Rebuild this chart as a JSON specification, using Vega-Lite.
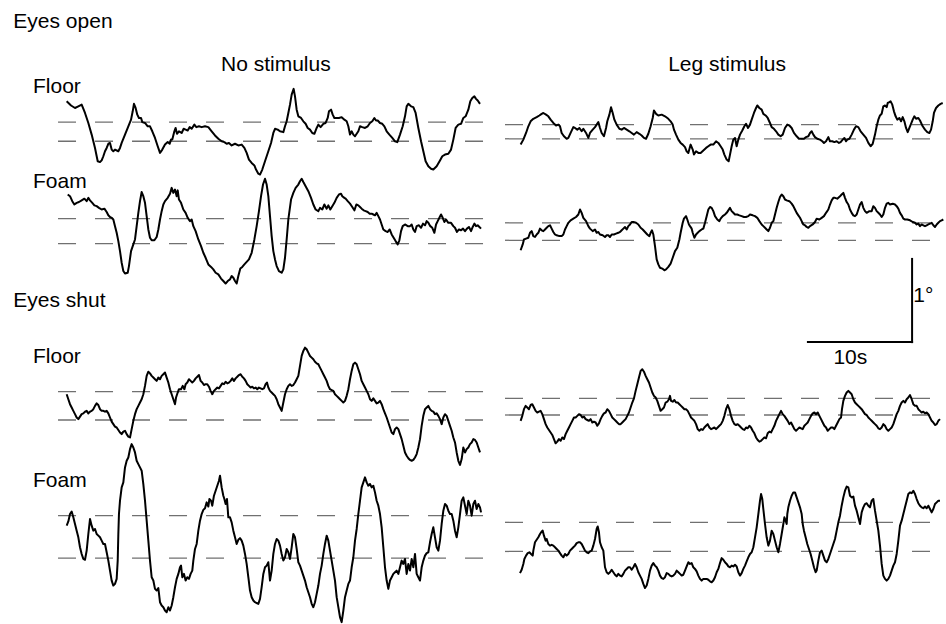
{
"$schema":"https://vega.github.io/schema/vega-lite/v6.json",
"width":946,"height":624,
"autosize":{"type":"fit","contains":"padding"},
"padding":0,
"background":"white",
"config":{"view":{"stroke":null},"text":{"font":"Liberation Sans","fontSize":21,"color":"black","baseline":"alphabetic"}},
"datasets":{
"sway":[
{"id":"A","t":6.40,"deg":6.27},{"id":"A","t":6.82,"deg":6.22},{"id":"A","t":7.20,"deg":6.19},{"id":"A","t":7.52,"deg":6.21},{"id":"A","t":7.84,"deg":6.23},{"id":"A","t":8.16,"deg":6.13},{"id":"A","t":8.48,"deg":6.01},{"id":"A","t":8.80,"deg":5.87},{"id":"A","t":9.12,"deg":5.71},{"id":"A","t":9.38,"deg":5.55},{"id":"A","t":9.60,"deg":5.54},{"id":"A","t":9.76,"deg":5.56},{"id":"A","t":9.92,"deg":5.61},{"id":"A","t":10.08,"deg":5.67},{"id":"A","t":10.24,"deg":5.71},{"id":"A","t":10.40,"deg":5.76},{"id":"A","t":10.56,"deg":5.77},{"id":"A","t":10.72,"deg":5.69},{"id":"A","t":10.88,"deg":5.67},{"id":"A","t":11.04,"deg":5.69},{"id":"A","t":11.36,"deg":5.67},{"id":"A","t":11.52,"deg":5.71},{"id":"A","t":11.68,"deg":5.77},{"id":"A","t":12.00,"deg":5.87},{"id":"A","t":12.32,"deg":5.97},{"id":"A","t":12.58,"deg":6.05},{"id":"A","t":12.74,"deg":6.15},{"id":"A","t":12.86,"deg":6.24},{"id":"A","t":13.02,"deg":6.19},{"id":"A","t":13.18,"deg":6.11},{"id":"A","t":13.34,"deg":6.07},{"id":"A","t":13.54,"deg":6.07},{"id":"A","t":13.66,"deg":6.02},{"id":"A","t":13.92,"deg":6.01},{"id":"A","t":14.18,"deg":5.97},{"id":"A","t":14.40,"deg":5.97},{"id":"A","t":14.62,"deg":5.91},{"id":"A","t":14.88,"deg":5.83},{"id":"A","t":15.14,"deg":5.73},{"id":"A","t":15.36,"deg":5.65},{"id":"A","t":15.58,"deg":5.69},{"id":"A","t":15.84,"deg":5.75},{"id":"A","t":16.10,"deg":5.78},{"id":"A","t":16.29,"deg":5.76},{"id":"A","t":16.42,"deg":5.81},{"id":"A","t":16.54,"deg":5.81},{"id":"A","t":16.74,"deg":5.91},{"id":"A","t":16.86,"deg":5.95},{"id":"A","t":16.99,"deg":5.88},{"id":"A","t":17.18,"deg":5.91},{"id":"A","t":17.44,"deg":5.89},{"id":"A","t":17.63,"deg":5.94},{"id":"A","t":17.82,"deg":5.93},{"id":"A","t":18.02,"deg":5.92},{"id":"A","t":18.21,"deg":5.96},{"id":"A","t":18.40,"deg":5.94},{"id":"A","t":18.66,"deg":5.99},{"id":"A","t":18.85,"deg":5.96},{"id":"A","t":19.10,"deg":5.97},{"id":"A","t":19.36,"deg":5.96},{"id":"A","t":19.68,"deg":5.97},{"id":"A","t":20.00,"deg":5.96},{"id":"A","t":20.32,"deg":5.91},{"id":"A","t":20.64,"deg":5.86},{"id":"A","t":20.96,"deg":5.82},{"id":"A","t":21.28,"deg":5.79},{"id":"A","t":21.54,"deg":5.78},{"id":"A","t":21.76,"deg":5.76},{"id":"A","t":21.98,"deg":5.77},{"id":"A","t":22.24,"deg":5.74},{"id":"A","t":22.56,"deg":5.76},{"id":"A","t":22.88,"deg":5.74},{"id":"A","t":23.20,"deg":5.75},{"id":"A","t":23.46,"deg":5.71},{"id":"A","t":23.68,"deg":5.65},{"id":"A","t":23.90,"deg":5.57},{"id":"A","t":24.16,"deg":5.53},{"id":"A","t":24.42,"deg":5.50},{"id":"A","t":24.58,"deg":5.45},{"id":"A","t":24.80,"deg":5.40},{"id":"A","t":24.96,"deg":5.39},{"id":"A","t":25.18,"deg":5.45},{"id":"A","t":25.44,"deg":5.55},{"id":"A","t":25.76,"deg":5.67},{"id":"A","t":26.02,"deg":5.77},{"id":"A","t":26.24,"deg":5.89},{"id":"A","t":26.40,"deg":5.94},{"id":"A","t":26.66,"deg":5.93},{"id":"A","t":26.88,"deg":5.91},{"id":"A","t":27.20,"deg":5.90},{"id":"A","t":27.36,"deg":5.97},{"id":"A","t":27.52,"deg":6.03},{"id":"A","t":27.68,"deg":6.13},{"id":"A","t":27.84,"deg":6.23},{"id":"A","t":28.00,"deg":6.35},{"id":"A","t":28.19,"deg":6.42},{"id":"A","t":28.32,"deg":6.33},{"id":"A","t":28.48,"deg":6.17},{"id":"A","t":28.64,"deg":6.09},{"id":"A","t":28.90,"deg":6.07},{"id":"A","t":29.12,"deg":6.03},{"id":"A","t":29.34,"deg":6.00},{"id":"A","t":29.54,"deg":5.95},{"id":"A","t":29.76,"deg":5.93},{"id":"A","t":29.98,"deg":5.89},{"id":"A","t":30.18,"deg":5.88},{"id":"A","t":30.40,"deg":5.95},{"id":"A","t":30.56,"deg":5.99},{"id":"A","t":30.78,"deg":5.96},{"id":"A","t":31.04,"deg":6.00},{"id":"A","t":31.26,"deg":6.01},{"id":"A","t":31.46,"deg":6.07},{"id":"A","t":31.58,"deg":6.15},{"id":"A","t":31.78,"deg":6.17},{"id":"A","t":31.94,"deg":6.11},{"id":"A","t":32.10,"deg":6.07},{"id":"A","t":32.32,"deg":6.07},{"id":"A","t":32.54,"deg":6.07},{"id":"A","t":32.80,"deg":6.08},{"id":"A","t":33.06,"deg":6.05},{"id":"A","t":33.28,"deg":6.03},{"id":"A","t":33.44,"deg":5.97},{"id":"A","t":33.60,"deg":5.87},{"id":"A","t":33.76,"deg":5.91},{"id":"A","t":33.92,"deg":5.87},{"id":"A","t":34.08,"deg":5.85},{"id":"A","t":34.24,"deg":5.88},{"id":"A","t":34.40,"deg":5.91},{"id":"A","t":34.56,"deg":5.97},{"id":"A","t":34.78,"deg":5.96},{"id":"A","t":35.04,"deg":5.95},{"id":"A","t":35.30,"deg":5.97},{"id":"A","t":35.52,"deg":6.01},{"id":"A","t":35.74,"deg":6.03},{"id":"A","t":35.94,"deg":6.07},{"id":"A","t":36.10,"deg":6.04},{"id":"A","t":36.26,"deg":6.04},{"id":"A","t":36.48,"deg":6.01},{"id":"A","t":36.70,"deg":6.00},{"id":"A","t":36.90,"deg":5.97},{"id":"A","t":37.12,"deg":5.91},{"id":"A","t":37.38,"deg":5.87},{"id":"A","t":37.66,"deg":5.83},{"id":"A","t":37.92,"deg":5.79},{"id":"A","t":38.14,"deg":5.78},{"id":"A","t":38.40,"deg":5.87},{"id":"A","t":38.66,"deg":5.97},{"id":"A","t":38.88,"deg":6.09},{"id":"A","t":39.04,"deg":6.21},{"id":"A","t":39.20,"deg":6.24},{"id":"A","t":39.46,"deg":6.21},{"id":"A","t":39.68,"deg":6.20},{"id":"A","t":39.90,"deg":6.13},{"id":"A","t":40.16,"deg":5.95},{"id":"A","t":40.42,"deg":5.79},{"id":"A","t":40.64,"deg":5.67},{"id":"A","t":40.86,"deg":5.55},{"id":"A","t":41.12,"deg":5.49},{"id":"A","t":41.38,"deg":5.46},{"id":"A","t":41.60,"deg":5.45},{"id":"A","t":41.92,"deg":5.49},{"id":"A","t":42.24,"deg":5.56},{"id":"A","t":42.46,"deg":5.61},{"id":"A","t":42.72,"deg":5.63},{"id":"A","t":43.04,"deg":5.64},{"id":"A","t":43.30,"deg":5.69},{"id":"A","t":43.52,"deg":5.81},{"id":"A","t":43.74,"deg":5.95},{"id":"A","t":44.00,"deg":5.99},{"id":"A","t":44.26,"deg":6.00},{"id":"A","t":44.48,"deg":6.07},{"id":"A","t":44.70,"deg":6.09},{"id":"A","t":44.96,"deg":6.17},{"id":"A","t":45.15,"deg":6.27},{"id":"A","t":45.34,"deg":6.31},{"id":"A","t":45.54,"deg":6.33},{"id":"A","t":45.70,"deg":6.30},{"id":"A","t":45.86,"deg":6.28},{"id":"A","t":46.08,"deg":6.24},
{"id":"B","t":49.98,"deg":5.75},{"id":"B","t":50.24,"deg":5.81},{"id":"B","t":50.50,"deg":5.89},{"id":"B","t":50.72,"deg":5.97},{"id":"B","t":50.94,"deg":6.03},{"id":"B","t":51.20,"deg":6.06},{"id":"B","t":51.52,"deg":6.08},{"id":"B","t":51.78,"deg":6.10},{"id":"B","t":52.00,"deg":6.12},{"id":"B","t":52.16,"deg":6.13},{"id":"B","t":52.42,"deg":6.11},{"id":"B","t":52.64,"deg":6.09},{"id":"B","t":52.86,"deg":6.05},{"id":"B","t":53.12,"deg":6.01},{"id":"B","t":53.38,"deg":5.98},{"id":"B","t":53.60,"deg":5.99},{"id":"B","t":53.76,"deg":5.97},{"id":"B","t":53.92,"deg":5.89},{"id":"B","t":54.14,"deg":5.85},{"id":"B","t":54.40,"deg":5.82},{"id":"B","t":54.56,"deg":5.83},{"id":"B","t":54.78,"deg":5.89},{"id":"B","t":55.04,"deg":5.96},{"id":"B","t":55.20,"deg":5.95},{"id":"B","t":55.42,"deg":5.93},{"id":"B","t":55.62,"deg":5.95},{"id":"B","t":55.84,"deg":5.91},{"id":"B","t":56.00,"deg":5.94},{"id":"B","t":56.26,"deg":5.89},{"id":"B","t":56.48,"deg":5.83},{"id":"B","t":56.64,"deg":5.89},{"id":"B","t":56.90,"deg":5.93},{"id":"B","t":57.12,"deg":5.96},{"id":"B","t":57.28,"deg":5.99},{"id":"B","t":57.44,"deg":6.02},{"id":"B","t":57.60,"deg":5.95},{"id":"B","t":57.76,"deg":5.89},{"id":"B","t":57.98,"deg":5.85},{"id":"B","t":58.18,"deg":5.95},{"id":"B","t":58.30,"deg":6.03},{"id":"B","t":58.50,"deg":6.11},{"id":"B","t":58.66,"deg":6.20},{"id":"B","t":58.82,"deg":6.13},{"id":"B","t":58.98,"deg":6.05},{"id":"B","t":59.20,"deg":5.99},{"id":"B","t":59.46,"deg":5.94},{"id":"B","t":59.68,"deg":5.93},{"id":"B","t":59.90,"deg":5.95},{"id":"B","t":60.16,"deg":5.93},{"id":"B","t":60.42,"deg":5.91},{"id":"B","t":60.64,"deg":5.89},{"id":"B","t":60.86,"deg":5.87},{"id":"B","t":61.12,"deg":5.90},{"id":"B","t":61.38,"deg":5.88},{"id":"B","t":61.60,"deg":5.86},{"id":"B","t":61.82,"deg":5.83},{"id":"B","t":62.02,"deg":5.82},{"id":"B","t":62.24,"deg":5.88},{"id":"B","t":62.46,"deg":5.97},{"id":"B","t":62.66,"deg":6.07},{"id":"B","t":62.78,"deg":6.16},{"id":"B","t":62.98,"deg":6.12},{"id":"B","t":63.20,"deg":6.10},{"id":"B","t":63.52,"deg":6.11},{"id":"B","t":63.84,"deg":6.09},{"id":"B","t":64.16,"deg":6.06},{"id":"B","t":64.38,"deg":6.03},{"id":"B","t":64.58,"deg":5.99},{"id":"B","t":64.70,"deg":5.93},{"id":"B","t":64.90,"deg":5.87},{"id":"B","t":65.12,"deg":5.81},{"id":"B","t":65.34,"deg":5.77},{"id":"B","t":65.54,"deg":5.75},{"id":"B","t":65.76,"deg":5.72},{"id":"B","t":65.92,"deg":5.67},{"id":"B","t":66.08,"deg":5.65},{"id":"B","t":66.30,"deg":5.75},{"id":"B","t":66.50,"deg":5.69},{"id":"B","t":66.62,"deg":5.63},{"id":"B","t":66.82,"deg":5.67},{"id":"B","t":67.04,"deg":5.65},{"id":"B","t":67.26,"deg":5.65},{"id":"B","t":67.52,"deg":5.68},{"id":"B","t":67.78,"deg":5.71},{"id":"B","t":68.00,"deg":5.73},{"id":"B","t":68.22,"deg":5.75},{"id":"B","t":68.48,"deg":5.75},{"id":"B","t":68.74,"deg":5.79},{"id":"B","t":68.96,"deg":5.77},{"id":"B","t":69.18,"deg":5.73},{"id":"B","t":69.38,"deg":5.69},{"id":"B","t":69.54,"deg":5.63},{"id":"B","t":69.76,"deg":5.57},{"id":"B","t":69.95,"deg":5.55},{"id":"B","t":70.08,"deg":5.63},{"id":"B","t":70.24,"deg":5.73},{"id":"B","t":70.40,"deg":5.81},{"id":"B","t":70.56,"deg":5.83},{"id":"B","t":70.72,"deg":5.73},{"id":"B","t":70.88,"deg":5.81},{"id":"B","t":71.04,"deg":5.87},{"id":"B","t":71.26,"deg":5.92},{"id":"B","t":71.46,"deg":5.97},{"id":"B","t":71.62,"deg":6.00},{"id":"B","t":71.81,"deg":5.95},{"id":"B","t":72.00,"deg":5.99},{"id":"B","t":72.16,"deg":6.05},{"id":"B","t":72.38,"deg":6.13},{"id":"B","t":72.58,"deg":6.19},{"id":"B","t":72.70,"deg":6.22},{"id":"B","t":72.90,"deg":6.19},{"id":"B","t":73.12,"deg":6.17},{"id":"B","t":73.28,"deg":6.12},{"id":"B","t":73.50,"deg":6.10},{"id":"B","t":73.70,"deg":6.07},{"id":"B","t":73.92,"deg":6.01},{"id":"B","t":74.08,"deg":5.96},{"id":"B","t":74.30,"deg":5.94},{"id":"B","t":74.50,"deg":5.91},{"id":"B","t":74.72,"deg":5.87},{"id":"B","t":74.94,"deg":5.85},{"id":"B","t":75.14,"deg":5.87},{"id":"B","t":75.36,"deg":5.95},{"id":"B","t":75.58,"deg":5.99},{"id":"B","t":75.78,"deg":5.98},{"id":"B","t":76.00,"deg":5.95},{"id":"B","t":76.22,"deg":5.89},{"id":"B","t":76.48,"deg":5.85},{"id":"B","t":76.70,"deg":5.82},{"id":"B","t":76.96,"deg":5.82},{"id":"B","t":77.18,"deg":5.82},{"id":"B","t":77.38,"deg":5.84},{"id":"B","t":77.60,"deg":5.85},{"id":"B","t":77.76,"deg":5.89},{"id":"B","t":77.92,"deg":5.91},{"id":"B","t":78.08,"deg":5.87},{"id":"B","t":78.24,"deg":5.84},{"id":"B","t":78.46,"deg":5.82},{"id":"B","t":78.72,"deg":5.81},{"id":"B","t":78.94,"deg":5.79},{"id":"B","t":79.10,"deg":5.77},{"id":"B","t":79.30,"deg":5.79},{"id":"B","t":79.52,"deg":5.84},{"id":"B","t":79.68,"deg":5.79},{"id":"B","t":79.90,"deg":5.79},{"id":"B","t":80.10,"deg":5.78},{"id":"B","t":80.32,"deg":5.79},{"id":"B","t":80.54,"deg":5.77},{"id":"B","t":80.70,"deg":5.78},{"id":"B","t":80.90,"deg":5.81},{"id":"B","t":81.06,"deg":5.83},{"id":"B","t":81.22,"deg":5.79},{"id":"B","t":81.34,"deg":5.81},{"id":"B","t":81.54,"deg":5.82},{"id":"B","t":81.76,"deg":5.87},{"id":"B","t":81.98,"deg":5.93},{"id":"B","t":82.18,"deg":5.97},{"id":"B","t":82.40,"deg":5.96},{"id":"B","t":82.62,"deg":5.91},{"id":"B","t":82.88,"deg":5.87},{"id":"B","t":83.14,"deg":5.83},{"id":"B","t":83.36,"deg":5.77},{"id":"B","t":83.58,"deg":5.73},{"id":"B","t":83.78,"deg":5.76},{"id":"B","t":84.00,"deg":5.87},{"id":"B","t":84.16,"deg":5.97},{"id":"B","t":84.32,"deg":6.05},{"id":"B","t":84.48,"deg":6.10},{"id":"B","t":84.64,"deg":6.12},{"id":"B","t":84.80,"deg":6.21},{"id":"B","t":84.96,"deg":6.22},{"id":"B","t":85.12,"deg":6.20},{"id":"B","t":85.22,"deg":6.25},{"id":"B","t":85.38,"deg":6.26},{"id":"B","t":85.50,"deg":6.27},{"id":"B","t":85.66,"deg":6.23},{"id":"B","t":85.82,"deg":6.15},{"id":"B","t":85.98,"deg":6.09},{"id":"B","t":86.14,"deg":6.05},{"id":"B","t":86.34,"deg":6.07},{"id":"B","t":86.50,"deg":6.03},{"id":"B","t":86.66,"deg":6.08},{"id":"B","t":86.82,"deg":6.03},{"id":"B","t":86.98,"deg":5.95},{"id":"B","t":87.14,"deg":5.90},{"id":"B","t":87.30,"deg":5.95},{"id":"B","t":87.46,"deg":6.00},{"id":"B","t":87.62,"deg":6.05},{"id":"B","t":87.78,"deg":6.09},{"id":"B","t":87.94,"deg":6.06},{"id":"B","t":88.16,"deg":6.07},{"id":"B","t":88.32,"deg":6.04},{"id":"B","t":88.58,"deg":5.97},{"id":"B","t":88.80,"deg":5.93},{"id":"B","t":89.02,"deg":5.90},{"id":"B","t":89.22,"deg":5.89},{"id":"B","t":89.38,"deg":5.93},{"id":"B","t":89.54,"deg":6.03},{"id":"B","t":89.66,"deg":6.13},{"id":"B","t":89.86,"deg":6.19},{"id":"B","t":90.08,"deg":6.22},{"id":"B","t":90.30,"deg":6.24},{"id":"B","t":90.50,"deg":6.25},
{"id":"C","t":6.50,"deg":5.15},{"id":"C","t":6.72,"deg":5.13},{"id":"C","t":6.94,"deg":5.07},{"id":"C","t":7.14,"deg":5.03},{"id":"C","t":7.36,"deg":5.05},{"id":"C","t":7.58,"deg":5.06},{"id":"C","t":7.84,"deg":5.08},{"id":"C","t":8.10,"deg":5.10},{"id":"C","t":8.32,"deg":5.07},{"id":"C","t":8.48,"deg":5.11},{"id":"C","t":8.64,"deg":5.08},{"id":"C","t":8.86,"deg":5.05},{"id":"C","t":9.06,"deg":5.02},{"id":"C","t":9.28,"deg":5.01},{"id":"C","t":9.50,"deg":4.99},{"id":"C","t":9.76,"deg":4.97},{"id":"C","t":10.02,"deg":4.98},{"id":"C","t":10.24,"deg":4.94},{"id":"C","t":10.40,"deg":4.90},{"id":"C","t":10.56,"deg":4.88},{"id":"C","t":10.72,"deg":4.87},{"id":"C","t":10.88,"deg":4.85},{"id":"C","t":11.04,"deg":4.77},{"id":"C","t":11.20,"deg":4.69},{"id":"C","t":11.36,"deg":4.59},{"id":"C","t":11.52,"deg":4.47},{"id":"C","t":11.68,"deg":4.33},{"id":"C","t":11.84,"deg":4.23},{"id":"C","t":12.00,"deg":4.20},{"id":"C","t":12.26,"deg":4.21},{"id":"C","t":12.38,"deg":4.29},{"id":"C","t":12.58,"deg":4.47},{"id":"C","t":12.80,"deg":4.55},{"id":"C","t":12.96,"deg":4.61},{"id":"C","t":13.12,"deg":4.77},{"id":"C","t":13.28,"deg":4.93},{"id":"C","t":13.44,"deg":5.07},{"id":"C","t":13.60,"deg":5.18},{"id":"C","t":13.76,"deg":5.13},{"id":"C","t":13.92,"deg":5.05},{"id":"C","t":14.08,"deg":4.89},{"id":"C","t":14.24,"deg":4.73},{"id":"C","t":14.40,"deg":4.63},{"id":"C","t":14.56,"deg":4.60},{"id":"C","t":14.82,"deg":4.60},{"id":"C","t":15.04,"deg":4.64},{"id":"C","t":15.20,"deg":4.73},{"id":"C","t":15.36,"deg":4.85},{"id":"C","t":15.52,"deg":4.95},{"id":"C","t":15.68,"deg":5.03},{"id":"C","t":15.84,"deg":5.07},{"id":"C","t":16.10,"deg":5.11},{"id":"C","t":16.32,"deg":5.16},{"id":"C","t":16.48,"deg":5.23},{"id":"C","t":16.64,"deg":5.17},{"id":"C","t":16.80,"deg":5.21},{"id":"C","t":16.96,"deg":5.13},{"id":"C","t":17.06,"deg":5.20},{"id":"C","t":17.18,"deg":5.09},{"id":"C","t":17.38,"deg":5.05},{"id":"C","t":17.60,"deg":4.97},{"id":"C","t":17.82,"deg":4.93},{"id":"C","t":18.02,"deg":4.87},{"id":"C","t":18.24,"deg":4.83},{"id":"C","t":18.40,"deg":4.85},{"id":"C","t":18.56,"deg":4.77},{"id":"C","t":18.78,"deg":4.71},{"id":"C","t":19.04,"deg":4.61},{"id":"C","t":19.30,"deg":4.53},{"id":"C","t":19.52,"deg":4.45},{"id":"C","t":19.74,"deg":4.39},{"id":"C","t":20.00,"deg":4.31},{"id":"C","t":20.26,"deg":4.28},{"id":"C","t":20.48,"deg":4.25},{"id":"C","t":20.70,"deg":4.21},{"id":"C","t":20.96,"deg":4.19},{"id":"C","t":21.22,"deg":4.14},{"id":"C","t":21.44,"deg":4.11},{"id":"C","t":21.66,"deg":4.08},{"id":"C","t":21.86,"deg":4.11},{"id":"C","t":22.08,"deg":4.13},{"id":"C","t":22.24,"deg":4.17},{"id":"C","t":22.40,"deg":4.15},{"id":"C","t":22.56,"deg":4.11},{"id":"C","t":22.72,"deg":4.08},{"id":"C","t":22.88,"deg":4.17},{"id":"C","t":23.07,"deg":4.26},{"id":"C","t":23.26,"deg":4.28},{"id":"C","t":23.46,"deg":4.31},{"id":"C","t":23.68,"deg":4.34},{"id":"C","t":23.90,"deg":4.37},{"id":"C","t":24.16,"deg":4.45},{"id":"C","t":24.42,"deg":4.61},{"id":"C","t":24.64,"deg":4.77},{"id":"C","t":24.86,"deg":4.95},{"id":"C","t":25.06,"deg":5.13},{"id":"C","t":25.25,"deg":5.27},{"id":"C","t":25.44,"deg":5.34},{"id":"C","t":25.60,"deg":5.27},{"id":"C","t":25.76,"deg":5.13},{"id":"C","t":25.92,"deg":4.89},{"id":"C","t":26.08,"deg":4.65},{"id":"C","t":26.24,"deg":4.47},{"id":"C","t":26.40,"deg":4.37},{"id":"C","t":26.56,"deg":4.29},{"id":"C","t":26.78,"deg":4.23},{"id":"C","t":27.04,"deg":4.21},{"id":"C","t":27.20,"deg":4.25},{"id":"C","t":27.36,"deg":4.39},{"id":"C","t":27.52,"deg":4.61},{"id":"C","t":27.68,"deg":4.85},{"id":"C","t":27.94,"deg":5.09},{"id":"C","t":28.16,"deg":5.17},{"id":"C","t":28.38,"deg":5.23},{"id":"C","t":28.64,"deg":5.27},{"id":"C","t":28.80,"deg":5.31},{"id":"C","t":28.96,"deg":5.34},{"id":"C","t":29.12,"deg":5.30},{"id":"C","t":29.34,"deg":5.25},{"id":"C","t":29.60,"deg":5.19},{"id":"C","t":29.86,"deg":5.11},{"id":"C","t":30.08,"deg":5.03},{"id":"C","t":30.30,"deg":4.97},{"id":"C","t":30.56,"deg":4.95},{"id":"C","t":30.72,"deg":4.99},{"id":"C","t":30.94,"deg":4.97},{"id":"C","t":31.14,"deg":5.03},{"id":"C","t":31.36,"deg":4.98},{"id":"C","t":31.52,"deg":5.02},{"id":"C","t":31.71,"deg":4.97},{"id":"C","t":31.90,"deg":5.01},{"id":"C","t":32.10,"deg":5.05},{"id":"C","t":32.32,"deg":5.11},{"id":"C","t":32.54,"deg":5.15},{"id":"C","t":32.74,"deg":5.16},{"id":"C","t":32.86,"deg":5.13},{"id":"C","t":33.06,"deg":5.11},{"id":"C","t":33.18,"deg":5.10},{"id":"C","t":33.38,"deg":5.07},{"id":"C","t":33.60,"deg":5.04},{"id":"C","t":33.82,"deg":5.00},{"id":"C","t":34.02,"deg":4.96},{"id":"C","t":34.21,"deg":5.03},{"id":"C","t":34.40,"deg":5.02},{"id":"C","t":34.56,"deg":5.00},{"id":"C","t":34.72,"deg":4.98},{"id":"C","t":34.91,"deg":4.96},{"id":"C","t":35.10,"deg":4.95},{"id":"C","t":35.30,"deg":4.94},{"id":"C","t":35.49,"deg":4.92},{"id":"C","t":35.68,"deg":4.92},{"id":"C","t":35.84,"deg":4.91},{"id":"C","t":36.00,"deg":4.90},{"id":"C","t":36.16,"deg":4.93},{"id":"C","t":36.32,"deg":4.89},{"id":"C","t":36.48,"deg":4.85},{"id":"C","t":36.64,"deg":4.79},{"id":"C","t":36.80,"deg":4.73},{"id":"C","t":37.02,"deg":4.71},{"id":"C","t":37.22,"deg":4.70},{"id":"C","t":37.41,"deg":4.73},{"id":"C","t":37.60,"deg":4.67},{"id":"C","t":37.79,"deg":4.63},{"id":"C","t":37.98,"deg":4.59},{"id":"C","t":38.18,"deg":4.55},{"id":"C","t":38.34,"deg":4.60},{"id":"C","t":38.50,"deg":4.71},{"id":"C","t":38.66,"deg":4.77},{"id":"C","t":38.88,"deg":4.79},{"id":"C","t":39.14,"deg":4.77},{"id":"C","t":39.36,"deg":4.77},{"id":"C","t":39.52,"deg":4.79},{"id":"C","t":39.68,"deg":4.73},{"id":"C","t":39.84,"deg":4.70},{"id":"C","t":40.00,"deg":4.77},{"id":"C","t":40.22,"deg":4.78},{"id":"C","t":40.42,"deg":4.75},{"id":"C","t":40.61,"deg":4.80},{"id":"C","t":40.80,"deg":4.78},{"id":"C","t":40.96,"deg":4.83},{"id":"C","t":41.12,"deg":4.81},{"id":"C","t":41.31,"deg":4.77},{"id":"C","t":41.50,"deg":4.75},{"id":"C","t":41.70,"deg":4.69},{"id":"C","t":41.86,"deg":4.79},{"id":"C","t":42.02,"deg":4.83},{"id":"C","t":42.18,"deg":4.87},{"id":"C","t":42.34,"deg":4.91},{"id":"C","t":42.50,"deg":4.87},{"id":"C","t":42.66,"deg":4.82},{"id":"C","t":42.82,"deg":4.85},{"id":"C","t":43.04,"deg":4.81},{"id":"C","t":43.30,"deg":4.81},{"id":"C","t":43.52,"deg":4.77},{"id":"C","t":43.68,"deg":4.75},{"id":"C","t":43.87,"deg":4.70},{"id":"C","t":44.06,"deg":4.73},{"id":"C","t":44.26,"deg":4.72},{"id":"C","t":44.45,"deg":4.74},{"id":"C","t":44.64,"deg":4.71},{"id":"C","t":44.83,"deg":4.74},{"id":"C","t":45.02,"deg":4.76},{"id":"C","t":45.22,"deg":4.71},{"id":"C","t":45.38,"deg":4.76},{"id":"C","t":45.54,"deg":4.80},{"id":"C","t":45.70,"deg":4.77},{"id":"C","t":45.86,"deg":4.78},{"id":"C","t":46.02,"deg":4.76},{"id":"C","t":46.18,"deg":4.74},
{"id":"D","t":49.98,"deg":4.48},{"id":"D","t":50.18,"deg":4.55},{"id":"D","t":50.30,"deg":4.61},{"id":"D","t":50.50,"deg":4.62},{"id":"D","t":50.72,"deg":4.63},{"id":"D","t":50.88,"deg":4.69},{"id":"D","t":51.04,"deg":4.71},{"id":"D","t":51.20,"deg":4.65},{"id":"D","t":51.36,"deg":4.64},{"id":"D","t":51.52,"deg":4.67},{"id":"D","t":51.68,"deg":4.69},{"id":"D","t":51.84,"deg":4.74},{"id":"D","t":52.00,"deg":4.72},{"id":"D","t":52.16,"deg":4.71},{"id":"D","t":52.32,"deg":4.73},{"id":"D","t":52.48,"deg":4.75},{"id":"D","t":52.64,"deg":4.77},{"id":"D","t":52.80,"deg":4.78},{"id":"D","t":52.96,"deg":4.74},{"id":"D","t":53.12,"deg":4.70},{"id":"D","t":53.28,"deg":4.67},{"id":"D","t":53.44,"deg":4.66},{"id":"D","t":53.70,"deg":4.65},{"id":"D","t":53.92,"deg":4.65},{"id":"D","t":54.08,"deg":4.67},{"id":"D","t":54.24,"deg":4.73},{"id":"D","t":54.40,"deg":4.77},{"id":"D","t":54.56,"deg":4.81},{"id":"D","t":54.78,"deg":4.84},{"id":"D","t":55.04,"deg":4.86},{"id":"D","t":55.30,"deg":4.88},{"id":"D","t":55.52,"deg":4.91},{"id":"D","t":55.68,"deg":4.97},{"id":"D","t":55.84,"deg":4.93},{"id":"D","t":56.00,"deg":4.87},{"id":"D","t":56.26,"deg":4.83},{"id":"D","t":56.48,"deg":4.77},{"id":"D","t":56.64,"deg":4.74},{"id":"D","t":56.90,"deg":4.71},{"id":"D","t":57.12,"deg":4.73},{"id":"D","t":57.28,"deg":4.69},{"id":"D","t":57.44,"deg":4.70},{"id":"D","t":57.60,"deg":4.67},{"id":"D","t":57.86,"deg":4.66},{"id":"D","t":58.08,"deg":4.64},{"id":"D","t":58.24,"deg":4.66},{"id":"D","t":58.40,"deg":4.66},{"id":"D","t":58.56,"deg":4.64},{"id":"D","t":58.72,"deg":4.67},{"id":"D","t":58.94,"deg":4.67},{"id":"D","t":59.14,"deg":4.68},{"id":"D","t":59.36,"deg":4.69},{"id":"D","t":59.52,"deg":4.70},{"id":"D","t":59.68,"deg":4.72},{"id":"D","t":59.84,"deg":4.74},{"id":"D","t":60.00,"deg":4.76},{"id":"D","t":60.16,"deg":4.73},{"id":"D","t":60.32,"deg":4.77},{"id":"D","t":60.48,"deg":4.79},{"id":"D","t":60.64,"deg":4.82},{"id":"D","t":60.80,"deg":4.82},{"id":"D","t":61.06,"deg":4.81},{"id":"D","t":61.28,"deg":4.79},{"id":"D","t":61.50,"deg":4.75},{"id":"D","t":61.70,"deg":4.73},{"id":"D","t":61.92,"deg":4.70},{"id":"D","t":62.14,"deg":4.67},{"id":"D","t":62.34,"deg":4.65},{"id":"D","t":62.46,"deg":4.69},{"id":"D","t":62.59,"deg":4.72},{"id":"D","t":62.72,"deg":4.67},{"id":"D","t":62.88,"deg":4.53},{"id":"D","t":63.04,"deg":4.37},{"id":"D","t":63.20,"deg":4.31},{"id":"D","t":63.36,"deg":4.27},{"id":"D","t":63.58,"deg":4.26},{"id":"D","t":63.78,"deg":4.24},{"id":"D","t":63.94,"deg":4.25},{"id":"D","t":64.16,"deg":4.28},{"id":"D","t":64.38,"deg":4.32},{"id":"D","t":64.58,"deg":4.39},{"id":"D","t":64.80,"deg":4.47},{"id":"D","t":65.02,"deg":4.51},{"id":"D","t":65.22,"deg":4.61},{"id":"D","t":65.34,"deg":4.69},{"id":"D","t":65.54,"deg":4.81},{"id":"D","t":65.66,"deg":4.86},{"id":"D","t":65.86,"deg":4.89},{"id":"D","t":65.98,"deg":4.85},{"id":"D","t":66.14,"deg":4.79},{"id":"D","t":66.24,"deg":4.77},{"id":"D","t":66.40,"deg":4.74},{"id":"D","t":66.50,"deg":4.69},{"id":"D","t":66.66,"deg":4.63},{"id":"D","t":66.82,"deg":4.67},{"id":"D","t":66.98,"deg":4.69},{"id":"D","t":67.14,"deg":4.71},{"id":"D","t":67.36,"deg":4.73},{"id":"D","t":67.52,"deg":4.74},{"id":"D","t":67.68,"deg":4.81},{"id":"D","t":67.84,"deg":4.89},{"id":"D","t":68.00,"deg":4.97},{"id":"D","t":68.16,"deg":5.00},{"id":"D","t":68.32,"deg":4.99},{"id":"D","t":68.48,"deg":4.95},{"id":"D","t":68.64,"deg":4.89},{"id":"D","t":68.86,"deg":4.85},{"id":"D","t":69.06,"deg":4.83},{"id":"D","t":69.18,"deg":4.86},{"id":"D","t":69.38,"deg":4.89},{"id":"D","t":69.60,"deg":4.91},{"id":"D","t":69.76,"deg":4.93},{"id":"D","t":69.92,"deg":4.96},{"id":"D","t":70.08,"deg":4.99},{"id":"D","t":70.24,"deg":4.95},{"id":"D","t":70.40,"deg":4.93},{"id":"D","t":70.56,"deg":4.91},{"id":"D","t":70.78,"deg":4.91},{"id":"D","t":70.98,"deg":4.90},{"id":"D","t":71.20,"deg":4.89},{"id":"D","t":71.42,"deg":4.88},{"id":"D","t":71.62,"deg":4.88},{"id":"D","t":71.84,"deg":4.89},{"id":"D","t":72.00,"deg":4.91},{"id":"D","t":72.26,"deg":4.90},{"id":"D","t":72.48,"deg":4.89},{"id":"D","t":72.70,"deg":4.87},{"id":"D","t":72.90,"deg":4.83},{"id":"D","t":73.12,"deg":4.79},{"id":"D","t":73.28,"deg":4.77},{"id":"D","t":73.44,"deg":4.75},{"id":"D","t":73.60,"deg":4.73},{"id":"D","t":73.76,"deg":4.71},{"id":"D","t":73.92,"deg":4.75},{"id":"D","t":74.08,"deg":4.81},{"id":"D","t":74.24,"deg":4.83},{"id":"D","t":74.40,"deg":4.91},{"id":"D","t":74.56,"deg":4.99},{"id":"D","t":74.72,"deg":5.06},{"id":"D","t":74.88,"deg":5.12},{"id":"D","t":75.04,"deg":5.15},{"id":"D","t":75.20,"deg":5.13},{"id":"D","t":75.36,"deg":5.09},{"id":"D","t":75.52,"deg":5.08},{"id":"D","t":75.78,"deg":5.07},{"id":"D","t":76.00,"deg":5.04},{"id":"D","t":76.16,"deg":5.01},{"id":"D","t":76.32,"deg":4.97},{"id":"D","t":76.48,"deg":4.93},{"id":"D","t":76.64,"deg":4.90},{"id":"D","t":76.80,"deg":4.87},{"id":"D","t":76.96,"deg":4.83},{"id":"D","t":77.12,"deg":4.79},{"id":"D","t":77.28,"deg":4.78},{"id":"D","t":77.44,"deg":4.76},{"id":"D","t":77.60,"deg":4.75},{"id":"D","t":77.76,"deg":4.77},{"id":"D","t":78.02,"deg":4.79},{"id":"D","t":78.24,"deg":4.82},{"id":"D","t":78.40,"deg":4.86},{"id":"D","t":78.66,"deg":4.85},{"id":"D","t":78.88,"deg":4.87},{"id":"D","t":79.10,"deg":4.89},{"id":"D","t":79.30,"deg":4.93},{"id":"D","t":79.52,"deg":4.97},{"id":"D","t":79.68,"deg":5.03},{"id":"D","t":79.84,"deg":5.08},{"id":"D","t":80.00,"deg":5.11},{"id":"D","t":80.16,"deg":5.11},{"id":"D","t":80.38,"deg":5.10},{"id":"D","t":80.64,"deg":5.13},{"id":"D","t":80.80,"deg":5.15},{"id":"D","t":80.96,"deg":5.17},{"id":"D","t":81.12,"deg":5.11},{"id":"D","t":81.28,"deg":5.06},{"id":"D","t":81.44,"deg":5.03},{"id":"D","t":81.60,"deg":4.97},{"id":"D","t":81.76,"deg":4.93},{"id":"D","t":81.92,"deg":4.90},{"id":"D","t":82.08,"deg":4.89},{"id":"D","t":82.24,"deg":4.91},{"id":"D","t":82.40,"deg":4.97},{"id":"D","t":82.56,"deg":5.03},{"id":"D","t":82.72,"deg":5.06},{"id":"D","t":82.88,"deg":4.99},{"id":"D","t":83.04,"deg":4.95},{"id":"D","t":83.20,"deg":4.93},{"id":"D","t":83.46,"deg":4.95},{"id":"D","t":83.68,"deg":4.95},{"id":"D","t":83.84,"deg":5.01},{"id":"D","t":84.00,"deg":4.99},{"id":"D","t":84.16,"deg":4.95},{"id":"D","t":84.32,"deg":4.93},{"id":"D","t":84.48,"deg":4.91},{"id":"D","t":84.64,"deg":4.88},{"id":"D","t":84.80,"deg":4.91},{"id":"D","t":84.96,"deg":4.99},{"id":"D","t":85.12,"deg":5.04},{"id":"D","t":85.28,"deg":5.05},{"id":"D","t":85.44,"deg":5.03},{"id":"D","t":85.70,"deg":5.04},{"id":"D","t":85.92,"deg":5.03},{"id":"D","t":86.08,"deg":5.01},{"id":"D","t":86.24,"deg":4.98},{"id":"D","t":86.40,"deg":4.93},{"id":"D","t":86.56,"deg":4.90},{"id":"D","t":86.72,"deg":4.86},{"id":"D","t":86.88,"deg":4.85},{"id":"D","t":87.10,"deg":4.85},{"id":"D","t":87.36,"deg":4.84},{"id":"D","t":87.62,"deg":4.82},{"id":"D","t":87.84,"deg":4.81},{"id":"D","t":88.00,"deg":4.79},{"id":"D","t":88.16,"deg":4.80},{"id":"D","t":88.32,"deg":4.77},{"id":"D","t":88.48,"deg":4.79},{"id":"D","t":88.64,"deg":4.78},{"id":"D","t":88.80,"deg":4.77},{"id":"D","t":88.96,"deg":4.78},{"id":"D","t":89.12,"deg":4.79},{"id":"D","t":89.28,"deg":4.80},{"id":"D","t":89.44,"deg":4.81},{"id":"D","t":89.60,"deg":4.78},{"id":"D","t":89.76,"deg":4.76},{"id":"D","t":89.92,"deg":4.79},{"id":"D","t":90.08,"deg":4.81},{"id":"D","t":90.24,"deg":4.83},{"id":"D","t":90.40,"deg":4.84},{"id":"D","t":90.56,"deg":4.85},
{"id":"E","t":6.40,"deg":2.75},{"id":"E","t":6.56,"deg":2.69},{"id":"E","t":6.72,"deg":2.63},{"id":"E","t":6.88,"deg":2.59},{"id":"E","t":7.04,"deg":2.55},{"id":"E","t":7.20,"deg":2.51},{"id":"E","t":7.36,"deg":2.47},{"id":"E","t":7.52,"deg":2.45},{"id":"E","t":7.68,"deg":2.48},{"id":"E","t":7.84,"deg":2.51},{"id":"E","t":8.00,"deg":2.52},{"id":"E","t":8.16,"deg":2.54},{"id":"E","t":8.32,"deg":2.55},{"id":"E","t":8.48,"deg":2.52},{"id":"E","t":8.64,"deg":2.54},{"id":"E","t":8.80,"deg":2.55},{"id":"E","t":8.96,"deg":2.57},{"id":"E","t":9.12,"deg":2.61},{"id":"E","t":9.28,"deg":2.64},{"id":"E","t":9.44,"deg":2.62},{"id":"E","t":9.60,"deg":2.57},{"id":"E","t":9.76,"deg":2.55},{"id":"E","t":9.92,"deg":2.55},{"id":"E","t":10.08,"deg":2.54},{"id":"E","t":10.24,"deg":2.55},{"id":"E","t":10.40,"deg":2.52},{"id":"E","t":10.56,"deg":2.47},{"id":"E","t":10.72,"deg":2.42},{"id":"E","t":10.88,"deg":2.39},{"id":"E","t":11.04,"deg":2.36},{"id":"E","t":11.20,"deg":2.35},{"id":"E","t":11.36,"deg":2.32},{"id":"E","t":11.52,"deg":2.29},{"id":"E","t":11.68,"deg":2.27},{"id":"E","t":11.84,"deg":2.30},{"id":"E","t":12.00,"deg":2.31},{"id":"E","t":12.16,"deg":2.27},{"id":"E","t":12.32,"deg":2.24},{"id":"E","t":12.48,"deg":2.23},{"id":"E","t":12.64,"deg":2.33},{"id":"E","t":12.80,"deg":2.43},{"id":"E","t":12.96,"deg":2.51},{"id":"E","t":13.12,"deg":2.57},{"id":"E","t":13.28,"deg":2.61},{"id":"E","t":13.44,"deg":2.65},{"id":"E","t":13.60,"deg":2.69},{"id":"E","t":13.76,"deg":2.75},{"id":"E","t":13.92,"deg":2.85},{"id":"E","t":14.08,"deg":2.97},{"id":"E","t":14.24,"deg":3.02},{"id":"E","t":14.40,"deg":3.00},{"id":"E","t":14.56,"deg":2.97},{"id":"E","t":14.72,"deg":2.95},{"id":"E","t":14.88,"deg":2.93},{"id":"E","t":15.04,"deg":2.91},{"id":"E","t":15.20,"deg":2.95},{"id":"E","t":15.36,"deg":2.93},{"id":"E","t":15.52,"deg":2.97},{"id":"E","t":15.68,"deg":2.99},{"id":"E","t":15.84,"deg":3.01},{"id":"E","t":16.00,"deg":2.95},{"id":"E","t":16.16,"deg":2.89},{"id":"E","t":16.32,"deg":2.81},{"id":"E","t":16.48,"deg":2.75},{"id":"E","t":16.64,"deg":2.69},{"id":"E","t":16.80,"deg":2.63},{"id":"E","t":16.90,"deg":2.71},{"id":"E","t":17.06,"deg":2.77},{"id":"E","t":17.18,"deg":2.81},{"id":"E","t":17.38,"deg":2.81},{"id":"E","t":17.54,"deg":2.85},{"id":"E","t":17.70,"deg":2.81},{"id":"E","t":17.82,"deg":2.87},{"id":"E","t":17.98,"deg":2.89},{"id":"E","t":18.14,"deg":2.93},{"id":"E","t":18.30,"deg":2.91},{"id":"E","t":18.46,"deg":2.89},{"id":"E","t":18.62,"deg":2.91},{"id":"E","t":18.78,"deg":2.94},{"id":"E","t":18.94,"deg":2.96},{"id":"E","t":19.10,"deg":2.98},{"id":"E","t":19.26,"deg":2.91},{"id":"E","t":19.42,"deg":2.89},{"id":"E","t":19.58,"deg":2.86},{"id":"E","t":19.74,"deg":2.87},{"id":"E","t":19.90,"deg":2.87},{"id":"E","t":20.06,"deg":2.84},{"id":"E","t":20.22,"deg":2.79},{"id":"E","t":20.38,"deg":2.75},{"id":"E","t":20.54,"deg":2.79},{"id":"E","t":20.70,"deg":2.81},{"id":"E","t":20.86,"deg":2.83},{"id":"E","t":21.02,"deg":2.82},{"id":"E","t":21.18,"deg":2.85},{"id":"E","t":21.34,"deg":2.88},{"id":"E","t":21.50,"deg":2.87},{"id":"E","t":21.66,"deg":2.90},{"id":"E","t":21.82,"deg":2.88},{"id":"E","t":21.98,"deg":2.89},{"id":"E","t":22.14,"deg":2.91},{"id":"E","t":22.30,"deg":2.94},{"id":"E","t":22.46,"deg":2.91},{"id":"E","t":22.62,"deg":2.94},{"id":"E","t":22.78,"deg":2.96},{"id":"E","t":22.94,"deg":2.98},{"id":"E","t":23.10,"deg":2.99},{"id":"E","t":23.26,"deg":2.96},{"id":"E","t":23.42,"deg":2.94},{"id":"E","t":23.58,"deg":2.91},{"id":"E","t":23.74,"deg":2.87},{"id":"E","t":23.90,"deg":2.85},{"id":"E","t":24.06,"deg":2.83},{"id":"E","t":24.22,"deg":2.84},{"id":"E","t":24.38,"deg":2.82},{"id":"E","t":24.54,"deg":2.83},{"id":"E","t":24.70,"deg":2.81},{"id":"E","t":24.86,"deg":2.83},{"id":"E","t":25.02,"deg":2.82},{"id":"E","t":25.18,"deg":2.81},{"id":"E","t":25.34,"deg":2.82},{"id":"E","t":25.50,"deg":2.87},{"id":"E","t":25.63,"deg":2.89},{"id":"E","t":25.76,"deg":2.83},{"id":"E","t":25.92,"deg":2.79},{"id":"E","t":26.08,"deg":2.77},{"id":"E","t":26.24,"deg":2.75},{"id":"E","t":26.40,"deg":2.73},{"id":"E","t":26.56,"deg":2.69},{"id":"E","t":26.72,"deg":2.63},{"id":"E","t":26.88,"deg":2.59},{"id":"E","t":27.04,"deg":2.55},{"id":"E","t":27.20,"deg":2.65},{"id":"E","t":27.36,"deg":2.75},{"id":"E","t":27.52,"deg":2.81},{"id":"E","t":27.68,"deg":2.85},{"id":"E","t":27.84,"deg":2.87},{"id":"E","t":28.00,"deg":2.85},{"id":"E","t":28.16,"deg":2.86},{"id":"E","t":28.32,"deg":2.89},{"id":"E","t":28.48,"deg":2.93},{"id":"E","t":28.64,"deg":2.97},{"id":"E","t":28.80,"deg":3.09},{"id":"E","t":28.96,"deg":3.21},{"id":"E","t":29.12,"deg":3.27},{"id":"E","t":29.28,"deg":3.31},{"id":"E","t":29.44,"deg":3.29},{"id":"E","t":29.60,"deg":3.25},{"id":"E","t":29.76,"deg":3.21},{"id":"E","t":29.92,"deg":3.19},{"id":"E","t":30.08,"deg":3.17},{"id":"E","t":30.24,"deg":3.14},{"id":"E","t":30.40,"deg":3.12},{"id":"E","t":30.56,"deg":3.11},{"id":"E","t":30.72,"deg":3.07},{"id":"E","t":30.88,"deg":3.03},{"id":"E","t":31.04,"deg":2.99},{"id":"E","t":31.20,"deg":2.95},{"id":"E","t":31.36,"deg":2.91},{"id":"E","t":31.52,"deg":2.85},{"id":"E","t":31.68,"deg":2.81},{"id":"E","t":31.84,"deg":2.80},{"id":"E","t":32.00,"deg":2.79},{"id":"E","t":32.16,"deg":2.75},{"id":"E","t":32.32,"deg":2.73},{"id":"E","t":32.48,"deg":2.71},{"id":"E","t":32.64,"deg":2.69},{"id":"E","t":32.80,"deg":2.67},{"id":"E","t":32.96,"deg":2.65},{"id":"E","t":33.12,"deg":2.67},{"id":"E","t":33.28,"deg":2.73},{"id":"E","t":33.44,"deg":2.81},{"id":"E","t":33.60,"deg":2.93},{"id":"E","t":33.76,"deg":3.03},{"id":"E","t":33.92,"deg":3.11},{"id":"E","t":34.08,"deg":3.13},{"id":"E","t":34.24,"deg":3.11},{"id":"E","t":34.40,"deg":3.05},{"id":"E","t":34.56,"deg":2.99},{"id":"E","t":34.72,"deg":2.91},{"id":"E","t":34.88,"deg":2.87},{"id":"E","t":35.04,"deg":2.83},{"id":"E","t":35.20,"deg":2.79},{"id":"E","t":35.36,"deg":2.75},{"id":"E","t":35.52,"deg":2.69},{"id":"E","t":35.68,"deg":2.67},{"id":"E","t":35.84,"deg":2.70},{"id":"E","t":36.00,"deg":2.67},{"id":"E","t":36.16,"deg":2.64},{"id":"E","t":36.32,"deg":2.65},{"id":"E","t":36.48,"deg":2.67},{"id":"E","t":36.64,"deg":2.63},{"id":"E","t":36.80,"deg":2.57},{"id":"E","t":36.96,"deg":2.52},{"id":"E","t":37.12,"deg":2.47},{"id":"E","t":37.28,"deg":2.41},{"id":"E","t":37.44,"deg":2.35},{"id":"E","t":37.60,"deg":2.29},{"id":"E","t":37.76,"deg":2.27},{"id":"E","t":37.92,"deg":2.33},{"id":"E","t":38.08,"deg":2.35},{"id":"E","t":38.24,"deg":2.33},{"id":"E","t":38.40,"deg":2.27},{"id":"E","t":38.56,"deg":2.21},{"id":"E","t":38.72,"deg":2.13},{"id":"E","t":38.88,"deg":2.05},{"id":"E","t":39.04,"deg":2.01},{"id":"E","t":39.20,"deg":1.98},{"id":"E","t":39.36,"deg":1.96},{"id":"E","t":39.52,"deg":1.95},{"id":"E","t":39.68,"deg":1.96},{"id":"E","t":39.84,"deg":1.99},{"id":"E","t":40.00,"deg":2.03},{"id":"E","t":40.16,"deg":2.11},{"id":"E","t":40.32,"deg":2.21},{"id":"E","t":40.48,"deg":2.37},{"id":"E","t":40.64,"deg":2.49},{"id":"E","t":40.80,"deg":2.57},{"id":"E","t":40.96,"deg":2.59},{"id":"E","t":41.12,"deg":2.61},{"id":"E","t":41.28,"deg":2.57},{"id":"E","t":41.44,"deg":2.55},{"id":"E","t":41.60,"deg":2.54},{"id":"E","t":41.76,"deg":2.51},{"id":"E","t":41.92,"deg":2.52},{"id":"E","t":42.08,"deg":2.49},{"id":"E","t":42.24,"deg":2.45},{"id":"E","t":42.40,"deg":2.39},{"id":"E","t":42.56,"deg":2.47},{"id":"E","t":42.72,"deg":2.51},{"id":"E","t":42.88,"deg":2.49},{"id":"E","t":43.04,"deg":2.43},{"id":"E","t":43.20,"deg":2.37},{"id":"E","t":43.36,"deg":2.31},{"id":"E","t":43.52,"deg":2.23},{"id":"E","t":43.68,"deg":2.17},{"id":"E","t":43.84,"deg":2.05},{"id":"E","t":44.00,"deg":1.95},{"id":"E","t":44.16,"deg":1.90},{"id":"E","t":44.32,"deg":1.97},{"id":"E","t":44.48,"deg":2.11},{"id":"E","t":44.64,"deg":2.05},{"id":"E","t":44.80,"deg":2.09},{"id":"E","t":44.96,"deg":2.11},{"id":"E","t":45.12,"deg":2.15},{"id":"E","t":45.28,"deg":2.17},{"id":"E","t":45.44,"deg":2.21},{"id":"E","t":45.60,"deg":2.20},{"id":"E","t":45.76,"deg":2.17},{"id":"E","t":45.92,"deg":2.11},{"id":"E","t":46.08,"deg":2.05},
{"id":"F","t":49.98,"deg":2.43},{"id":"F","t":50.14,"deg":2.49},{"id":"F","t":50.30,"deg":2.57},{"id":"F","t":50.46,"deg":2.61},{"id":"F","t":50.62,"deg":2.59},{"id":"F","t":50.78,"deg":2.57},{"id":"F","t":50.94,"deg":2.62},{"id":"F","t":51.10,"deg":2.63},{"id":"F","t":51.26,"deg":2.59},{"id":"F","t":51.42,"deg":2.55},{"id":"F","t":51.58,"deg":2.53},{"id":"F","t":51.74,"deg":2.54},{"id":"F","t":51.90,"deg":2.55},{"id":"F","t":52.06,"deg":2.51},{"id":"F","t":52.22,"deg":2.45},{"id":"F","t":52.38,"deg":2.39},{"id":"F","t":52.54,"deg":2.35},{"id":"F","t":52.70,"deg":2.32},{"id":"F","t":52.86,"deg":2.29},{"id":"F","t":53.02,"deg":2.26},{"id":"F","t":53.18,"deg":2.21},{"id":"F","t":53.34,"deg":2.16},{"id":"F","t":53.50,"deg":2.18},{"id":"F","t":53.66,"deg":2.21},{"id":"F","t":53.82,"deg":2.19},{"id":"F","t":53.98,"deg":2.23},{"id":"F","t":54.14,"deg":2.21},{"id":"F","t":54.30,"deg":2.27},{"id":"F","t":54.46,"deg":2.31},{"id":"F","t":54.62,"deg":2.35},{"id":"F","t":54.78,"deg":2.39},{"id":"F","t":54.94,"deg":2.43},{"id":"F","t":55.10,"deg":2.47},{"id":"F","t":55.26,"deg":2.47},{"id":"F","t":55.42,"deg":2.49},{"id":"F","t":55.58,"deg":2.51},{"id":"F","t":55.74,"deg":2.50},{"id":"F","t":55.90,"deg":2.47},{"id":"F","t":56.06,"deg":2.48},{"id":"F","t":56.22,"deg":2.45},{"id":"F","t":56.38,"deg":2.44},{"id":"F","t":56.54,"deg":2.43},{"id":"F","t":56.70,"deg":2.45},{"id":"F","t":56.86,"deg":2.41},{"id":"F","t":57.02,"deg":2.42},{"id":"F","t":57.18,"deg":2.41},{"id":"F","t":57.34,"deg":2.37},{"id":"F","t":57.50,"deg":2.40},{"id":"F","t":57.66,"deg":2.45},{"id":"F","t":57.82,"deg":2.49},{"id":"F","t":57.98,"deg":2.52},{"id":"F","t":58.14,"deg":2.53},{"id":"F","t":58.30,"deg":2.57},{"id":"F","t":58.46,"deg":2.55},{"id":"F","t":58.62,"deg":2.51},{"id":"F","t":58.78,"deg":2.47},{"id":"F","t":58.94,"deg":2.45},{"id":"F","t":59.10,"deg":2.43},{"id":"F","t":59.26,"deg":2.41},{"id":"F","t":59.42,"deg":2.39},{"id":"F","t":59.58,"deg":2.39},{"id":"F","t":59.74,"deg":2.41},{"id":"F","t":59.90,"deg":2.43},{"id":"F","t":60.06,"deg":2.45},{"id":"F","t":60.22,"deg":2.49},{"id":"F","t":60.38,"deg":2.53},{"id":"F","t":60.54,"deg":2.59},{"id":"F","t":60.70,"deg":2.65},{"id":"F","t":60.86,"deg":2.70},{"id":"F","t":61.02,"deg":2.79},{"id":"F","t":61.18,"deg":2.87},{"id":"F","t":61.34,"deg":2.95},{"id":"F","t":61.50,"deg":3.03},{"id":"F","t":61.66,"deg":3.05},{"id":"F","t":61.82,"deg":3.02},{"id":"F","t":61.98,"deg":2.97},{"id":"F","t":62.14,"deg":2.93},{"id":"F","t":62.30,"deg":2.89},{"id":"F","t":62.46,"deg":2.83},{"id":"F","t":62.62,"deg":2.77},{"id":"F","t":62.78,"deg":2.73},{"id":"F","t":62.94,"deg":2.71},{"id":"F","t":63.10,"deg":2.67},{"id":"F","t":63.26,"deg":2.61},{"id":"F","t":63.42,"deg":2.55},{"id":"F","t":63.58,"deg":2.57},{"id":"F","t":63.74,"deg":2.59},{"id":"F","t":63.90,"deg":2.65},{"id":"F","t":64.06,"deg":2.66},{"id":"F","t":64.22,"deg":2.69},{"id":"F","t":64.32,"deg":2.73},{"id":"F","t":64.42,"deg":2.67},{"id":"F","t":64.58,"deg":2.66},{"id":"F","t":64.74,"deg":2.68},{"id":"F","t":64.90,"deg":2.65},{"id":"F","t":65.06,"deg":2.65},{"id":"F","t":65.22,"deg":2.63},{"id":"F","t":65.38,"deg":2.61},{"id":"F","t":65.54,"deg":2.59},{"id":"F","t":65.70,"deg":2.57},{"id":"F","t":65.86,"deg":2.57},{"id":"F","t":66.02,"deg":2.55},{"id":"F","t":66.18,"deg":2.51},{"id":"F","t":66.34,"deg":2.47},{"id":"F","t":66.50,"deg":2.45},{"id":"F","t":66.66,"deg":2.43},{"id":"F","t":66.82,"deg":2.39},{"id":"F","t":66.98,"deg":2.33},{"id":"F","t":67.14,"deg":2.31},{"id":"F","t":67.30,"deg":2.33},{"id":"F","t":67.46,"deg":2.32},{"id":"F","t":67.62,"deg":2.35},{"id":"F","t":67.78,"deg":2.37},{"id":"F","t":67.94,"deg":2.39},{"id":"F","t":68.10,"deg":2.35},{"id":"F","t":68.26,"deg":2.33},{"id":"F","t":68.42,"deg":2.34},{"id":"F","t":68.58,"deg":2.35},{"id":"F","t":68.74,"deg":2.33},{"id":"F","t":68.90,"deg":2.35},{"id":"F","t":69.06,"deg":2.37},{"id":"F","t":69.22,"deg":2.39},{"id":"F","t":69.38,"deg":2.43},{"id":"F","t":69.54,"deg":2.49},{"id":"F","t":69.70,"deg":2.57},{"id":"F","t":69.86,"deg":2.62},{"id":"F","t":70.02,"deg":2.57},{"id":"F","t":70.18,"deg":2.49},{"id":"F","t":70.34,"deg":2.43},{"id":"F","t":70.50,"deg":2.39},{"id":"F","t":70.66,"deg":2.38},{"id":"F","t":70.82,"deg":2.39},{"id":"F","t":70.98,"deg":2.37},{"id":"F","t":71.14,"deg":2.35},{"id":"F","t":71.30,"deg":2.33},{"id":"F","t":71.46,"deg":2.32},{"id":"F","t":71.62,"deg":2.35},{"id":"F","t":71.78,"deg":2.34},{"id":"F","t":71.94,"deg":2.37},{"id":"F","t":72.10,"deg":2.35},{"id":"F","t":72.26,"deg":2.31},{"id":"F","t":72.42,"deg":2.28},{"id":"F","t":72.58,"deg":2.23},{"id":"F","t":72.74,"deg":2.20},{"id":"F","t":72.90,"deg":2.18},{"id":"F","t":73.06,"deg":2.19},{"id":"F","t":73.22,"deg":2.21},{"id":"F","t":73.38,"deg":2.23},{"id":"F","t":73.54,"deg":2.22},{"id":"F","t":73.70,"deg":2.28},{"id":"F","t":73.86,"deg":2.30},{"id":"F","t":74.02,"deg":2.29},{"id":"F","t":74.18,"deg":2.33},{"id":"F","t":74.34,"deg":2.37},{"id":"F","t":74.50,"deg":2.43},{"id":"F","t":74.66,"deg":2.47},{"id":"F","t":74.82,"deg":2.51},{"id":"F","t":74.98,"deg":2.55},{"id":"F","t":75.14,"deg":2.51},{"id":"F","t":75.30,"deg":2.49},{"id":"F","t":75.46,"deg":2.46},{"id":"F","t":75.62,"deg":2.43},{"id":"F","t":75.78,"deg":2.39},{"id":"F","t":75.94,"deg":2.41},{"id":"F","t":76.10,"deg":2.37},{"id":"F","t":76.26,"deg":2.33},{"id":"F","t":76.42,"deg":2.31},{"id":"F","t":76.58,"deg":2.33},{"id":"F","t":76.74,"deg":2.35},{"id":"F","t":76.90,"deg":2.34},{"id":"F","t":77.06,"deg":2.33},{"id":"F","t":77.22,"deg":2.37},{"id":"F","t":77.38,"deg":2.39},{"id":"F","t":77.54,"deg":2.41},{"id":"F","t":77.70,"deg":2.45},{"id":"F","t":77.86,"deg":2.49},{"id":"F","t":78.02,"deg":2.52},{"id":"F","t":78.18,"deg":2.53},{"id":"F","t":78.34,"deg":2.51},{"id":"F","t":78.50,"deg":2.53},{"id":"F","t":78.66,"deg":2.49},{"id":"F","t":78.82,"deg":2.45},{"id":"F","t":78.98,"deg":2.41},{"id":"F","t":79.14,"deg":2.37},{"id":"F","t":79.30,"deg":2.35},{"id":"F","t":79.46,"deg":2.31},{"id":"F","t":79.62,"deg":2.33},{"id":"F","t":79.78,"deg":2.35},{"id":"F","t":79.94,"deg":2.35},{"id":"F","t":80.10,"deg":2.33},{"id":"F","t":80.26,"deg":2.37},{"id":"F","t":80.42,"deg":2.41},{"id":"F","t":80.58,"deg":2.45},{"id":"F","t":80.74,"deg":2.47},{"id":"F","t":80.83,"deg":2.57},{"id":"F","t":80.96,"deg":2.67},{"id":"F","t":81.12,"deg":2.73},{"id":"F","t":81.28,"deg":2.77},{"id":"F","t":81.44,"deg":2.79},{"id":"F","t":81.60,"deg":2.77},{"id":"F","t":81.76,"deg":2.75},{"id":"F","t":81.92,"deg":2.69},{"id":"F","t":82.08,"deg":2.65},{"id":"F","t":82.24,"deg":2.63},{"id":"F","t":82.40,"deg":2.61},{"id":"F","t":82.56,"deg":2.59},{"id":"F","t":82.72,"deg":2.57},{"id":"F","t":82.88,"deg":2.54},{"id":"F","t":83.04,"deg":2.51},{"id":"F","t":83.20,"deg":2.50},{"id":"F","t":83.36,"deg":2.47},{"id":"F","t":83.52,"deg":2.45},{"id":"F","t":83.68,"deg":2.43},{"id":"F","t":83.84,"deg":2.41},{"id":"F","t":84.00,"deg":2.39},{"id":"F","t":84.16,"deg":2.37},{"id":"F","t":84.32,"deg":2.34},{"id":"F","t":84.48,"deg":2.33},{"id":"F","t":84.64,"deg":2.35},{"id":"F","t":84.80,"deg":2.39},{"id":"F","t":84.96,"deg":2.37},{"id":"F","t":85.12,"deg":2.33},{"id":"F","t":85.28,"deg":2.31},{"id":"F","t":85.44,"deg":2.33},{"id":"F","t":85.60,"deg":2.35},{"id":"F","t":85.76,"deg":2.39},{"id":"F","t":85.92,"deg":2.45},{"id":"F","t":86.08,"deg":2.51},{"id":"F","t":86.24,"deg":2.55},{"id":"F","t":86.40,"deg":2.61},{"id":"F","t":86.56,"deg":2.65},{"id":"F","t":86.72,"deg":2.67},{"id":"F","t":86.88,"deg":2.65},{"id":"F","t":87.04,"deg":2.69},{"id":"F","t":87.20,"deg":2.71},{"id":"F","t":87.36,"deg":2.74},{"id":"F","t":87.52,"deg":2.69},{"id":"F","t":87.68,"deg":2.63},{"id":"F","t":87.84,"deg":2.61},{"id":"F","t":88.00,"deg":2.61},{"id":"F","t":88.16,"deg":2.57},{"id":"F","t":88.32,"deg":2.55},{"id":"F","t":88.48,"deg":2.53},{"id":"F","t":88.64,"deg":2.54},{"id":"F","t":88.80,"deg":2.52},{"id":"F","t":88.96,"deg":2.53},{"id":"F","t":89.12,"deg":2.51},{"id":"F","t":89.28,"deg":2.47},{"id":"F","t":89.44,"deg":2.43},{"id":"F","t":89.60,"deg":2.41},{"id":"F","t":89.76,"deg":2.38},{"id":"F","t":89.92,"deg":2.39},{"id":"F","t":90.08,"deg":2.43},{"id":"F","t":90.24,"deg":2.45},
{"id":"G","t":6.40,"deg":1.17},{"id":"G","t":6.56,"deg":1.22},{"id":"G","t":6.72,"deg":1.31},{"id":"G","t":6.88,"deg":1.34},{"id":"G","t":7.04,"deg":1.27},{"id":"G","t":7.20,"deg":1.19},{"id":"G","t":7.36,"deg":1.11},{"id":"G","t":7.52,"deg":1.03},{"id":"G","t":7.68,"deg":0.91},{"id":"G","t":7.84,"deg":0.83},{"id":"G","t":8.00,"deg":0.77},{"id":"G","t":8.16,"deg":0.76},{"id":"G","t":8.32,"deg":0.87},{"id":"G","t":8.48,"deg":1.07},{"id":"G","t":8.64,"deg":1.25},{"id":"G","t":8.80,"deg":1.17},{"id":"G","t":8.96,"deg":1.11},{"id":"G","t":9.12,"deg":1.13},{"id":"G","t":9.28,"deg":1.07},{"id":"G","t":9.44,"deg":1.05},{"id":"G","t":9.60,"deg":1.03},{"id":"G","t":9.76,"deg":0.99},{"id":"G","t":9.92,"deg":0.95},{"id":"G","t":10.08,"deg":0.95},{"id":"G","t":10.24,"deg":0.85},{"id":"G","t":10.40,"deg":0.75},{"id":"G","t":10.56,"deg":0.63},{"id":"G","t":10.72,"deg":0.51},{"id":"G","t":10.88,"deg":0.45},{"id":"G","t":11.04,"deg":0.47},{"id":"G","t":11.20,"deg":0.53},{"id":"G","t":11.30,"deg":0.75},{"id":"G","t":11.36,"deg":1.07},{"id":"G","t":11.42,"deg":1.31},{"id":"G","t":11.52,"deg":1.47},{"id":"G","t":11.68,"deg":1.63},{"id":"G","t":11.84,"deg":1.69},{"id":"G","t":12.00,"deg":1.87},{"id":"G","t":12.16,"deg":1.95},{"id":"G","t":12.32,"deg":1.99},{"id":"G","t":12.48,"deg":2.09},{"id":"G","t":12.64,"deg":2.15},{"id":"G","t":12.80,"deg":2.11},{"id":"G","t":12.96,"deg":2.05},{"id":"G","t":13.12,"deg":1.95},{"id":"G","t":13.28,"deg":1.91},{"id":"G","t":13.44,"deg":1.87},{"id":"G","t":13.60,"deg":1.83},{"id":"G","t":13.76,"deg":1.67},{"id":"G","t":13.92,"deg":1.47},{"id":"G","t":14.08,"deg":1.23},{"id":"G","t":14.24,"deg":0.99},{"id":"G","t":14.40,"deg":0.75},{"id":"G","t":14.56,"deg":0.55},{"id":"G","t":14.72,"deg":0.51},{"id":"G","t":14.88,"deg":0.41},{"id":"G","t":15.04,"deg":0.39},{"id":"G","t":15.20,"deg":0.42},{"id":"G","t":15.36,"deg":0.25},{"id":"G","t":15.52,"deg":0.21},{"id":"G","t":15.68,"deg":0.19},{"id":"G","t":15.84,"deg":0.15},{"id":"G","t":16.00,"deg":0.13},{"id":"G","t":16.16,"deg":0.19},{"id":"G","t":16.32,"deg":0.15},{"id":"G","t":16.48,"deg":0.21},{"id":"G","t":16.64,"deg":0.31},{"id":"G","t":16.80,"deg":0.43},{"id":"G","t":16.96,"deg":0.53},{"id":"G","t":17.12,"deg":0.59},{"id":"G","t":17.28,"deg":0.67},{"id":"G","t":17.38,"deg":0.69},{"id":"G","t":17.50,"deg":0.55},{"id":"G","t":17.66,"deg":0.59},{"id":"G","t":17.82,"deg":0.51},{"id":"G","t":17.98,"deg":0.55},{"id":"G","t":18.14,"deg":0.53},{"id":"G","t":18.30,"deg":0.59},{"id":"G","t":18.46,"deg":0.63},{"id":"G","t":18.56,"deg":0.75},{"id":"G","t":18.72,"deg":0.89},{"id":"G","t":18.88,"deg":0.95},{"id":"G","t":19.04,"deg":1.11},{"id":"G","t":19.20,"deg":1.23},{"id":"G","t":19.36,"deg":1.31},{"id":"G","t":19.52,"deg":1.36},{"id":"G","t":19.68,"deg":1.38},{"id":"G","t":19.84,"deg":1.45},{"id":"G","t":20.00,"deg":1.40},{"id":"G","t":20.10,"deg":1.49},{"id":"G","t":20.26,"deg":1.47},{"id":"G","t":20.38,"deg":1.41},{"id":"G","t":20.54,"deg":1.53},{"id":"G","t":20.70,"deg":1.59},{"id":"G","t":20.86,"deg":1.65},{"id":"G","t":21.02,"deg":1.71},{"id":"G","t":21.12,"deg":1.77},{"id":"G","t":21.28,"deg":1.63},{"id":"G","t":21.44,"deg":1.53},{"id":"G","t":21.54,"deg":1.49},{"id":"G","t":21.66,"deg":1.43},{"id":"G","t":21.79,"deg":1.49},{"id":"G","t":21.92,"deg":1.27},{"id":"G","t":22.08,"deg":1.27},{"id":"G","t":22.24,"deg":1.21},{"id":"G","t":22.40,"deg":1.11},{"id":"G","t":22.56,"deg":1.03},{"id":"G","t":22.72,"deg":0.95},{"id":"G","t":22.88,"deg":1.00},{"id":"G","t":23.04,"deg":1.02},{"id":"G","t":23.20,"deg":0.99},{"id":"G","t":23.36,"deg":0.93},{"id":"G","t":23.52,"deg":0.83},{"id":"G","t":23.68,"deg":0.71},{"id":"G","t":23.84,"deg":0.55},{"id":"G","t":24.00,"deg":0.39},{"id":"G","t":24.16,"deg":0.31},{"id":"G","t":24.32,"deg":0.27},{"id":"G","t":24.48,"deg":0.25},{"id":"G","t":24.64,"deg":0.24},{"id":"G","t":24.80,"deg":0.23},{"id":"G","t":24.96,"deg":0.29},{"id":"G","t":25.12,"deg":0.43},{"id":"G","t":25.28,"deg":0.59},{"id":"G","t":25.44,"deg":0.67},{"id":"G","t":25.60,"deg":0.69},{"id":"G","t":25.76,"deg":0.73},{"id":"G","t":25.92,"deg":0.51},{"id":"G","t":26.08,"deg":0.63},{"id":"G","t":26.24,"deg":0.83},{"id":"G","t":26.40,"deg":0.95},{"id":"G","t":26.56,"deg":1.01},{"id":"G","t":26.72,"deg":0.99},{"id":"G","t":26.88,"deg":0.93},{"id":"G","t":27.04,"deg":0.83},{"id":"G","t":27.20,"deg":0.75},{"id":"G","t":27.36,"deg":0.79},{"id":"G","t":27.52,"deg":0.89},{"id":"G","t":27.68,"deg":0.85},{"id":"G","t":27.84,"deg":0.77},{"id":"G","t":28.00,"deg":0.91},{"id":"G","t":28.16,"deg":1.07},{"id":"G","t":28.32,"deg":1.03},{"id":"G","t":28.48,"deg":0.89},{"id":"G","t":28.64,"deg":0.73},{"id":"G","t":28.80,"deg":0.69},{"id":"G","t":28.96,"deg":0.63},{"id":"G","t":29.12,"deg":0.57},{"id":"G","t":29.28,"deg":0.51},{"id":"G","t":29.44,"deg":0.43},{"id":"G","t":29.60,"deg":0.37},{"id":"G","t":29.76,"deg":0.31},{"id":"G","t":29.92,"deg":0.23},{"id":"G","t":30.08,"deg":0.19},{"id":"G","t":30.24,"deg":0.25},{"id":"G","t":30.40,"deg":0.35},{"id":"G","t":30.56,"deg":0.45},{"id":"G","t":30.72,"deg":0.59},{"id":"G","t":30.88,"deg":0.69},{"id":"G","t":31.04,"deg":0.83},{"id":"G","t":31.20,"deg":0.95},{"id":"G","t":31.36,"deg":1.05},{"id":"G","t":31.52,"deg":0.99},{"id":"G","t":31.68,"deg":0.87},{"id":"G","t":31.84,"deg":0.75},{"id":"G","t":32.00,"deg":0.63},{"id":"G","t":32.16,"deg":0.51},{"id":"G","t":32.32,"deg":0.31},{"id":"G","t":32.48,"deg":0.19},{"id":"G","t":32.64,"deg":0.07},{"id":"G","t":32.80,"deg":0.01},{"id":"G","t":32.96,"deg":0.15},{"id":"G","t":33.12,"deg":0.31},{"id":"G","t":33.28,"deg":0.39},{"id":"G","t":33.44,"deg":0.47},{"id":"G","t":33.60,"deg":0.51},{"id":"G","t":33.76,"deg":0.67},{"id":"G","t":33.92,"deg":0.79},{"id":"G","t":34.08,"deg":0.99},{"id":"G","t":34.24,"deg":1.13},{"id":"G","t":34.40,"deg":1.31},{"id":"G","t":34.56,"deg":1.47},{"id":"G","t":34.72,"deg":1.63},{"id":"G","t":34.88,"deg":1.69},{"id":"G","t":35.04,"deg":1.75},{"id":"G","t":35.20,"deg":1.69},{"id":"G","t":35.36,"deg":1.65},{"id":"G","t":35.52,"deg":1.67},{"id":"G","t":35.68,"deg":1.63},{"id":"G","t":35.84,"deg":1.65},{"id":"G","t":36.00,"deg":1.57},{"id":"G","t":36.16,"deg":1.47},{"id":"G","t":36.32,"deg":1.41},{"id":"G","t":36.48,"deg":1.31},{"id":"G","t":36.64,"deg":1.15},{"id":"G","t":36.80,"deg":0.91},{"id":"G","t":36.96,"deg":0.67},{"id":"G","t":37.12,"deg":0.51},{"id":"G","t":37.28,"deg":0.41},{"id":"G","t":37.44,"deg":0.51},{"id":"G","t":37.60,"deg":0.55},{"id":"G","t":37.76,"deg":0.59},{"id":"G","t":37.92,"deg":0.61},{"id":"G","t":38.08,"deg":0.63},{"id":"G","t":38.24,"deg":0.59},{"id":"G","t":38.40,"deg":0.67},{"id":"G","t":38.56,"deg":0.75},{"id":"G","t":38.72,"deg":0.71},{"id":"G","t":38.88,"deg":0.77},{"id":"G","t":39.04,"deg":0.59},{"id":"G","t":39.20,"deg":0.71},{"id":"G","t":39.36,"deg":0.63},{"id":"G","t":39.52,"deg":0.77},{"id":"G","t":39.68,"deg":0.67},{"id":"G","t":39.84,"deg":0.83},{"id":"G","t":40.00,"deg":0.59},{"id":"G","t":40.16,"deg":0.55},{"id":"G","t":40.32,"deg":0.51},{"id":"G","t":40.48,"deg":0.67},{"id":"G","t":40.64,"deg":0.75},{"id":"G","t":40.80,"deg":0.81},{"id":"G","t":40.96,"deg":0.84},{"id":"G","t":41.12,"deg":0.85},{"id":"G","t":41.28,"deg":0.97},{"id":"G","t":41.44,"deg":1.07},{"id":"G","t":41.60,"deg":1.15},{"id":"G","t":41.76,"deg":1.03},{"id":"G","t":41.92,"deg":0.91},{"id":"G","t":42.08,"deg":0.87},{"id":"G","t":42.24,"deg":0.99},{"id":"G","t":42.40,"deg":1.19},{"id":"G","t":42.56,"deg":1.35},{"id":"G","t":42.72,"deg":1.43},{"id":"G","t":42.88,"deg":1.41},{"id":"G","t":43.04,"deg":1.35},{"id":"G","t":43.20,"deg":1.31},{"id":"G","t":43.36,"deg":1.31},{"id":"G","t":43.52,"deg":1.23},{"id":"G","t":43.68,"deg":1.11},{"id":"G","t":43.84,"deg":1.03},{"id":"G","t":44.00,"deg":1.15},{"id":"G","t":44.16,"deg":1.31},{"id":"G","t":44.32,"deg":1.47},{"id":"G","t":44.48,"deg":1.51},{"id":"G","t":44.64,"deg":1.41},{"id":"G","t":44.80,"deg":1.31},{"id":"G","t":44.96,"deg":1.47},{"id":"G","t":45.12,"deg":1.41},{"id":"G","t":45.28,"deg":1.29},{"id":"G","t":45.44,"deg":1.43},{"id":"G","t":45.60,"deg":1.47},{"id":"G","t":45.76,"deg":1.37},{"id":"G","t":45.92,"deg":1.43},{"id":"G","t":46.08,"deg":1.39},{"id":"G","t":46.18,"deg":1.33},
{"id":"H","t":49.92,"deg":0.60},{"id":"H","t":50.08,"deg":0.64},{"id":"H","t":50.24,"deg":0.71},{"id":"H","t":50.34,"deg":0.77},{"id":"H","t":50.50,"deg":0.81},{"id":"H","t":50.66,"deg":0.84},{"id":"H","t":50.82,"deg":0.85},{"id":"H","t":50.98,"deg":0.83},{"id":"H","t":51.14,"deg":0.81},{"id":"H","t":51.20,"deg":0.87},{"id":"H","t":51.36,"deg":0.97},{"id":"H","t":51.52,"deg":1.00},{"id":"H","t":51.68,"deg":1.03},{"id":"H","t":51.84,"deg":1.07},{"id":"H","t":52.00,"deg":1.10},{"id":"H","t":52.10,"deg":1.11},{"id":"H","t":52.22,"deg":1.05},{"id":"H","t":52.38,"deg":0.99},{"id":"H","t":52.48,"deg":1.01},{"id":"H","t":52.64,"deg":0.95},{"id":"H","t":52.80,"deg":0.93},{"id":"H","t":52.96,"deg":0.94},{"id":"H","t":53.12,"deg":0.93},{"id":"H","t":53.28,"deg":0.91},{"id":"H","t":53.44,"deg":0.89},{"id":"H","t":53.60,"deg":0.87},{"id":"H","t":53.76,"deg":0.84},{"id":"H","t":53.92,"deg":0.81},{"id":"H","t":54.08,"deg":0.79},{"id":"H","t":54.24,"deg":0.83},{"id":"H","t":54.40,"deg":0.81},{"id":"H","t":54.56,"deg":0.83},{"id":"H","t":54.72,"deg":0.87},{"id":"H","t":54.88,"deg":0.89},{"id":"H","t":55.04,"deg":0.91},{"id":"H","t":55.20,"deg":0.93},{"id":"H","t":55.36,"deg":0.96},{"id":"H","t":55.52,"deg":0.97},{"id":"H","t":55.68,"deg":0.97},{"id":"H","t":55.84,"deg":0.95},{"id":"H","t":56.00,"deg":0.91},{"id":"H","t":56.16,"deg":0.87},{"id":"H","t":56.32,"deg":0.85},{"id":"H","t":56.48,"deg":0.84},{"id":"H","t":56.64,"deg":0.86},{"id":"H","t":56.80,"deg":0.87},{"id":"H","t":56.96,"deg":0.93},{"id":"H","t":57.12,"deg":1.01},{"id":"H","t":57.28,"deg":1.13},{"id":"H","t":57.38,"deg":1.16},{"id":"H","t":57.50,"deg":1.09},{"id":"H","t":57.60,"deg":0.97},{"id":"H","t":57.76,"deg":0.91},{"id":"H","t":57.92,"deg":0.87},{"id":"H","t":57.98,"deg":0.79},{"id":"H","t":58.08,"deg":0.67},{"id":"H","t":58.24,"deg":0.61},{"id":"H","t":58.40,"deg":0.59},{"id":"H","t":58.56,"deg":0.61},{"id":"H","t":58.72,"deg":0.64},{"id":"H","t":58.88,"deg":0.61},{"id":"H","t":59.04,"deg":0.58},{"id":"H","t":59.20,"deg":0.56},{"id":"H","t":59.36,"deg":0.59},{"id":"H","t":59.52,"deg":0.57},{"id":"H","t":59.68,"deg":0.56},{"id":"H","t":59.84,"deg":0.59},{"id":"H","t":60.00,"deg":0.63},{"id":"H","t":60.16,"deg":0.65},{"id":"H","t":60.32,"deg":0.67},{"id":"H","t":60.48,"deg":0.67},{"id":"H","t":60.64,"deg":0.64},{"id":"H","t":60.80,"deg":0.67},{"id":"H","t":60.96,"deg":0.71},{"id":"H","t":61.12,"deg":0.67},{"id":"H","t":61.28,"deg":0.61},{"id":"H","t":61.44,"deg":0.57},{"id":"H","t":61.60,"deg":0.53},{"id":"H","t":61.76,"deg":0.47},{"id":"H","t":61.92,"deg":0.42},{"id":"H","t":62.08,"deg":0.45},{"id":"H","t":62.24,"deg":0.53},{"id":"H","t":62.40,"deg":0.63},{"id":"H","t":62.56,"deg":0.69},{"id":"H","t":62.72,"deg":0.72},{"id":"H","t":62.88,"deg":0.69},{"id":"H","t":63.04,"deg":0.67},{"id":"H","t":63.20,"deg":0.63},{"id":"H","t":63.36,"deg":0.57},{"id":"H","t":63.52,"deg":0.54},{"id":"H","t":63.68,"deg":0.53},{"id":"H","t":63.84,"deg":0.55},{"id":"H","t":64.00,"deg":0.60},{"id":"H","t":64.16,"deg":0.59},{"id":"H","t":64.32,"deg":0.57},{"id":"H","t":64.48,"deg":0.56},{"id":"H","t":64.64,"deg":0.57},{"id":"H","t":64.80,"deg":0.59},{"id":"H","t":64.96,"deg":0.63},{"id":"H","t":65.12,"deg":0.61},{"id":"H","t":65.28,"deg":0.59},{"id":"H","t":65.44,"deg":0.57},{"id":"H","t":65.60,"deg":0.58},{"id":"H","t":65.76,"deg":0.63},{"id":"H","t":65.92,"deg":0.68},{"id":"H","t":66.08,"deg":0.73},{"id":"H","t":66.24,"deg":0.71},{"id":"H","t":66.40,"deg":0.72},{"id":"H","t":66.56,"deg":0.67},{"id":"H","t":66.72,"deg":0.65},{"id":"H","t":66.88,"deg":0.62},{"id":"H","t":67.04,"deg":0.57},{"id":"H","t":67.20,"deg":0.53},{"id":"H","t":67.36,"deg":0.51},{"id":"H","t":67.52,"deg":0.53},{"id":"H","t":67.68,"deg":0.53},{"id":"H","t":67.84,"deg":0.53},{"id":"H","t":68.00,"deg":0.52},{"id":"H","t":68.16,"deg":0.50},{"id":"H","t":68.32,"deg":0.49},{"id":"H","t":68.48,"deg":0.51},{"id":"H","t":68.64,"deg":0.55},{"id":"H","t":68.80,"deg":0.61},{"id":"H","t":68.96,"deg":0.65},{"id":"H","t":69.12,"deg":0.72},{"id":"H","t":69.28,"deg":0.78},{"id":"H","t":69.44,"deg":0.76},{"id":"H","t":69.60,"deg":0.73},{"id":"H","t":69.76,"deg":0.71},{"id":"H","t":69.92,"deg":0.68},{"id":"H","t":70.08,"deg":0.67},{"id":"H","t":70.24,"deg":0.69},{"id":"H","t":70.40,"deg":0.68},{"id":"H","t":70.56,"deg":0.70},{"id":"H","t":70.72,"deg":0.68},{"id":"H","t":70.88,"deg":0.61},{"id":"H","t":71.04,"deg":0.57},{"id":"H","t":71.20,"deg":0.60},{"id":"H","t":71.36,"deg":0.65},{"id":"H","t":71.52,"deg":0.69},{"id":"H","t":71.68,"deg":0.74},{"id":"H","t":71.84,"deg":0.79},{"id":"H","t":72.00,"deg":0.83},{"id":"H","t":72.16,"deg":0.85},{"id":"H","t":72.32,"deg":0.91},{"id":"H","t":72.48,"deg":1.03},{"id":"H","t":72.64,"deg":1.15},{"id":"H","t":72.80,"deg":1.31},{"id":"H","t":72.96,"deg":1.47},{"id":"H","t":73.06,"deg":1.55},{"id":"H","t":73.18,"deg":1.49},{"id":"H","t":73.28,"deg":1.37},{"id":"H","t":73.44,"deg":1.19},{"id":"H","t":73.60,"deg":1.03},{"id":"H","t":73.76,"deg":0.93},{"id":"H","t":73.92,"deg":0.99},{"id":"H","t":74.08,"deg":1.11},{"id":"H","t":74.24,"deg":1.07},{"id":"H","t":74.40,"deg":0.99},{"id":"H","t":74.56,"deg":0.91},{"id":"H","t":74.72,"deg":0.85},{"id":"H","t":74.88,"deg":0.95},{"id":"H","t":75.04,"deg":1.07},{"id":"H","t":75.20,"deg":1.19},{"id":"H","t":75.30,"deg":1.27},{"id":"H","t":75.42,"deg":1.23},{"id":"H","t":75.52,"deg":1.19},{"id":"H","t":75.58,"deg":1.31},{"id":"H","t":75.68,"deg":1.39},{"id":"H","t":75.84,"deg":1.47},{"id":"H","t":76.00,"deg":1.53},{"id":"H","t":76.16,"deg":1.57},{"id":"H","t":76.32,"deg":1.57},{"id":"H","t":76.48,"deg":1.51},{"id":"H","t":76.64,"deg":1.45},{"id":"H","t":76.80,"deg":1.39},{"id":"H","t":76.96,"deg":1.31},{"id":"H","t":77.06,"deg":1.19},{"id":"H","t":77.18,"deg":1.11},{"id":"H","t":77.34,"deg":1.03},{"id":"H","t":77.50,"deg":0.95},{"id":"H","t":77.66,"deg":0.89},{"id":"H","t":77.82,"deg":0.83},{"id":"H","t":77.98,"deg":0.75},{"id":"H","t":78.14,"deg":0.67},{"id":"H","t":78.30,"deg":0.61},{"id":"H","t":78.40,"deg":0.63},{"id":"H","t":78.56,"deg":0.75},{"id":"H","t":78.72,"deg":0.85},{"id":"H","t":78.88,"deg":0.87},{"id":"H","t":79.04,"deg":0.81},{"id":"H","t":79.20,"deg":0.75},{"id":"H","t":79.36,"deg":0.73},{"id":"H","t":79.52,"deg":0.77},{"id":"H","t":79.68,"deg":0.83},{"id":"H","t":79.84,"deg":0.89},{"id":"H","t":80.00,"deg":0.95},{"id":"H","t":80.16,"deg":1.01},{"id":"H","t":80.32,"deg":1.11},{"id":"H","t":80.48,"deg":1.21},{"id":"H","t":80.64,"deg":1.29},{"id":"H","t":80.80,"deg":1.41},{"id":"H","t":80.96,"deg":1.51},{"id":"H","t":81.12,"deg":1.59},{"id":"H","t":81.28,"deg":1.64},{"id":"H","t":81.44,"deg":1.63},{"id":"H","t":81.60,"deg":1.53},{"id":"H","t":81.76,"deg":1.51},{"id":"H","t":81.92,"deg":1.52},{"id":"H","t":82.08,"deg":1.41},{"id":"H","t":82.24,"deg":1.35},{"id":"H","t":82.40,"deg":1.27},{"id":"H","t":82.56,"deg":1.19},{"id":"H","t":82.72,"deg":1.33},{"id":"H","t":82.88,"deg":1.39},{"id":"H","t":83.04,"deg":1.43},{"id":"H","t":83.20,"deg":1.44},{"id":"H","t":83.36,"deg":1.41},{"id":"H","t":83.52,"deg":1.39},{"id":"H","t":83.68,"deg":1.47},{"id":"H","t":83.84,"deg":1.49},{"id":"H","t":84.00,"deg":1.35},{"id":"H","t":84.16,"deg":1.23},{"id":"H","t":84.32,"deg":1.11},{"id":"H","t":84.48,"deg":0.93},{"id":"H","t":84.64,"deg":0.71},{"id":"H","t":84.80,"deg":0.57},{"id":"H","t":84.96,"deg":0.53},{"id":"H","t":85.12,"deg":0.51},{"id":"H","t":85.28,"deg":0.53},{"id":"H","t":85.44,"deg":0.57},{"id":"H","t":85.60,"deg":0.63},{"id":"H","t":85.76,"deg":0.69},{"id":"H","t":85.92,"deg":0.73},{"id":"H","t":86.08,"deg":0.83},{"id":"H","t":86.24,"deg":0.99},{"id":"H","t":86.40,"deg":1.17},{"id":"H","t":86.56,"deg":1.23},{"id":"H","t":86.72,"deg":1.31},{"id":"H","t":86.88,"deg":1.39},{"id":"H","t":87.04,"deg":1.47},{"id":"H","t":87.20,"deg":1.55},{"id":"H","t":87.36,"deg":1.57},{"id":"H","t":87.52,"deg":1.56},{"id":"H","t":87.68,"deg":1.59},{"id":"H","t":87.84,"deg":1.55},{"id":"H","t":88.00,"deg":1.49},{"id":"H","t":88.16,"deg":1.44},{"id":"H","t":88.32,"deg":1.41},{"id":"H","t":88.48,"deg":1.39},{"id":"H","t":88.64,"deg":1.38},{"id":"H","t":88.80,"deg":1.40},{"id":"H","t":88.96,"deg":1.38},{"id":"H","t":89.12,"deg":1.41},{"id":"H","t":89.28,"deg":1.37},{"id":"H","t":89.44,"deg":1.33},{"id":"H","t":89.60,"deg":1.37},{"id":"H","t":89.76,"deg":1.43},{"id":"H","t":89.92,"deg":1.45},{"id":"H","t":90.08,"deg":1.47},{"id":"H","t":90.24,"deg":1.47}
],
"bands":[
{"id":"A","t0":5.57,"t1":46.75,"deg":6.02},{"id":"A","t0":5.57,"t1":46.75,"deg":5.79},
{"id":"B","t0":48.48,"t1":89.57,"deg":5.99},{"id":"B","t0":48.48,"t1":89.57,"deg":5.82},
{"id":"C","t0":5.57,"t1":46.75,"deg":4.86},{"id":"C","t0":5.57,"t1":46.75,"deg":4.56},
{"id":"D","t0":48.48,"t1":89.57,"deg":4.81},{"id":"D","t0":48.48,"t1":89.57,"deg":4.60},
{"id":"E","t0":5.57,"t1":46.75,"deg":2.78},{"id":"E","t0":5.57,"t1":46.75,"deg":2.44},
{"id":"F","t0":48.48,"t1":89.57,"deg":2.70},{"id":"F","t0":48.48,"t1":89.57,"deg":2.50},
{"id":"G","t0":5.57,"t1":46.75,"deg":1.29},{"id":"G","t0":5.57,"t1":46.75,"deg":0.78},
{"id":"H","t0":48.48,"t1":89.57,"deg":1.21},{"id":"H","t0":48.48,"t1":89.57,"deg":0.86}
],
"scalebar":[
{"t0":77.56,"t1":87.56,"d0":3.376,"d1":3.376},
{"t0":87.56,"t1":87.56,"d0":3.376,"d1":4.376}
],
"leftLabels":[
{"text":"Eyes open","t":1.28,"deg":7.15},
{"text":"Floor","t":3.17,"deg":6.37},
{"text":"Foam","t":3.17,"deg":5.23},
{"text":"Eyes shut","t":1.28,"deg":3.80},
{"text":"Floor","t":3.17,"deg":3.13},
{"text":"Foam","t":3.17,"deg":1.64},
{"text":"1°","t":87.68,"deg":3.86}
],
"centerLabels":[
{"text":"No stimulus","t":26.48,"deg":6.64},
{"text":"Leg stimulus","t":69.8,"deg":6.64},
{"text":"10s","t":81.63,"deg":3.11}
]
},
"layer":[
{"data":{"name":"bands"},
 "mark":{"type":"rule","strokeDash":[18,19],"strokeWidth":1.3,"color":"#707070"},
 "encoding":{
  "x":{"field":"t0","type":"quantitative","scale":{"domain":[0,90.816],"nice":false,"zero":false},"axis":null},
  "x2":{"field":"t1"},
  "y":{"field":"deg","type":"quantitative","scale":{"domain":[0,7.488],"nice":false,"zero":false},"axis":null}}},
{"data":{"name":"sway"},
 "mark":{"type":"line","color":"black","strokeWidth":2,"strokeJoin":"round"},
 "encoding":{
  "x":{"field":"t","type":"quantitative","scale":{"domain":[0,90.816],"nice":false,"zero":false},"axis":null},
  "y":{"field":"deg","type":"quantitative","scale":{"domain":[0,7.488],"nice":false,"zero":false},"axis":null},
  "detail":{"field":"id","type":"nominal"}}},
{"data":{"name":"scalebar"},
 "mark":{"type":"rule","color":"black","strokeWidth":2,"strokeCap":"square"},
 "encoding":{
  "x":{"field":"t0","type":"quantitative","scale":{"domain":[0,90.816],"nice":false,"zero":false},"axis":null},
  "x2":{"field":"t1"},
  "y":{"field":"d0","type":"quantitative","scale":{"domain":[0,7.488],"nice":false,"zero":false},"axis":null},
  "y2":{"field":"d1"}}},
{"data":{"name":"leftLabels"},
 "mark":{"type":"text","align":"left"},
 "encoding":{
  "x":{"field":"t","type":"quantitative","scale":{"domain":[0,90.816],"nice":false,"zero":false},"axis":null},
  "y":{"field":"deg","type":"quantitative","scale":{"domain":[0,7.488],"nice":false,"zero":false},"axis":null},
  "text":{"field":"text","type":"nominal"}}},
{"data":{"name":"centerLabels"},
 "mark":{"type":"text","align":"center"},
 "encoding":{
  "x":{"field":"t","type":"quantitative","scale":{"domain":[0,90.816],"nice":false,"zero":false},"axis":null},
  "y":{"field":"deg","type":"quantitative","scale":{"domain":[0,7.488],"nice":false,"zero":false},"axis":null},
  "text":{"field":"text","type":"nominal"}}}
]
}
